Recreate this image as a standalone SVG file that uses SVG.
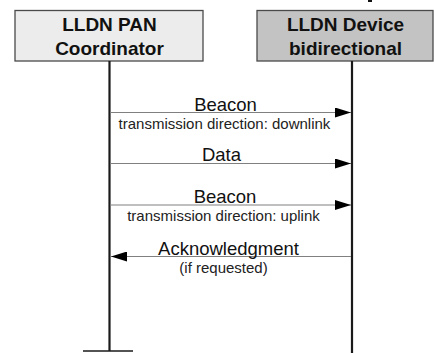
<svg xmlns="http://www.w3.org/2000/svg" width="434" height="353" viewBox="0 0 434 353">
  <style>
    .box { stroke: #4a4a4a; stroke-width: 1.3; }
    .head { font-family: "Liberation Sans", Arial, sans-serif; font-weight: bold; font-size: 19px; fill: #111; text-anchor: middle; }
    .life { stroke: #1a1a1a; stroke-width: 2.2; fill: none; }
    .msg { stroke: #808080; stroke-width: 1.2; fill: none; }
    .lbl { font-family: "Liberation Sans", Arial, sans-serif; font-size: 18.5px; fill: #111; text-anchor: middle; }
    .sub { font-family: "Liberation Sans", Arial, sans-serif; font-size: 15px; fill: #222; text-anchor: middle; }
  </style>
  <defs>
    <marker id="arrow" viewBox="0 0 16 10" refX="16" refY="5" markerWidth="16" markerHeight="10" markerUnits="userSpaceOnUse" orient="auto">
      <path d="M0,0 L16,5 L0,10 Z" fill="#000"/>
    </marker>
  </defs>
  <rect width="434" height="353" fill="#fff"/>
  <!-- clipped fragment at the top edge -->
  <rect x="368" y="0" width="4" height="2" fill="#111"/>

  <g id="coordinator">
    <rect class="box" x="15" y="10.5" width="188" height="50.5" fill="#ececec"/>
    <text class="head" x="109.5" y="30.5">LLDN PAN</text>
    <text class="head" x="109.5" y="55">Coordinator</text>
    <line class="life" x1="109.5" y1="61" x2="109.5" y2="351"/>
    <line stroke="#1a1a1a" stroke-width="1.5" x1="83" y1="351" x2="133" y2="351"/>
  </g>

  <g id="device">
    <rect class="box" x="257" y="10.5" width="176" height="50.5" fill="#c3c3c3"/>
    <text class="head" x="345.5" y="30.5">LLDN Device</text>
    <text class="head" x="345.5" y="55">bidirectional</text>
    <line class="life" x1="352" y1="61" x2="352" y2="353"/>
  </g>

  <g id="connectors">
    <line class="msg" x1="110" y1="112.5" x2="351" y2="112.5" marker-end="url(#arrow)"/>
    <text class="lbl" x="225.5" y="110.5">Beacon</text>
    <text class="sub" x="224.5" y="128.5">transmission direction: downlink</text>

    <line class="msg" x1="110" y1="163.5" x2="351" y2="163.5" marker-end="url(#arrow)"/>
    <text class="lbl" x="221.5" y="161">Data</text>

    <line class="msg" x1="110" y1="205" x2="351" y2="205" marker-end="url(#arrow)"/>
    <text class="lbl" x="225" y="203">Beacon</text>
    <text class="sub" x="223.5" y="221">transmission direction: uplink</text>

    <line class="msg" x1="351" y1="256.5" x2="111" y2="256.5" marker-end="url(#arrow)"/>
    <text class="lbl" x="228.5" y="254.5">Acknowledgment</text>
    <text class="sub" x="223.5" y="272.5">(if requested)</text>
  </g>
</svg>
